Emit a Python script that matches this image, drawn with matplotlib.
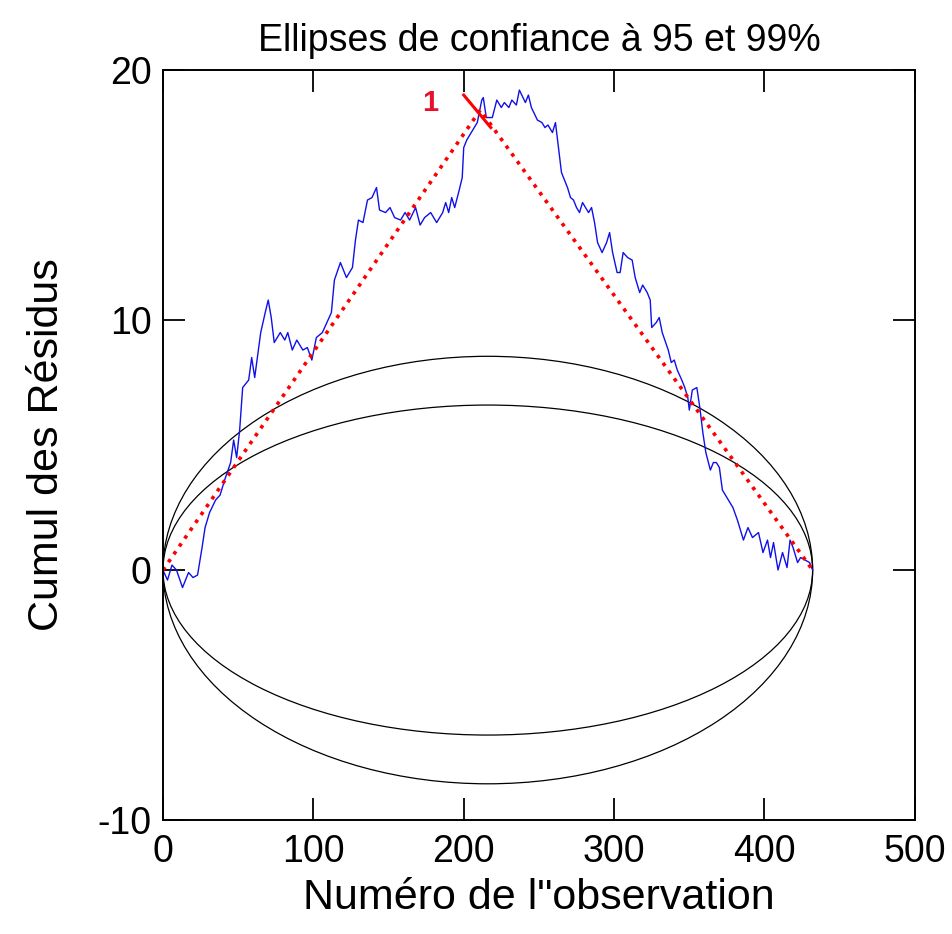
import numpy as np
import matplotlib.pyplot as plt
from matplotlib.patches import Ellipse

plt.rcParams['font.family'] = ['Liberation Sans', 'DejaVu Sans']
plt.rcParams['axes.unicode_minus'] = False

# cumulative residuals vs observation number
obs = [0, 3, 6, 9, 13, 17, 20, 23, 26, 28, 31, 35, 38, 41, 45, 47, 49, 51, 53, 57,
       59, 61, 65, 68, 70, 72, 74, 78, 81, 83, 86, 89, 93, 96, 99, 102, 106, 112, 114, 118,
       122, 126, 128, 130, 133, 136, 139, 142, 144, 148, 151, 154, 158, 161, 164, 168, 171, 174, 178, 182,
       186, 188, 190, 192, 194, 197, 199, 200, 202, 205, 209, 212, 213, 215, 219, 222, 225, 227, 230, 232,
       235, 237, 241, 243, 245, 249, 252, 254, 256, 259, 261, 263, 265, 269, 271, 273, 275, 277, 279, 283,
       285, 287, 289, 292, 295, 297, 299, 302, 304, 306, 309, 312, 314, 317, 319, 322, 324, 325, 328, 330,
       332, 336, 338, 340, 342, 345, 347, 349, 350, 352, 355, 357, 359, 361, 364, 366, 368, 370, 372, 376,
       379, 382, 386, 389, 392, 396, 399, 402, 404, 406, 409, 412, 415, 417, 419, 422, 424, 427, 430, 432]
cusum = [0.0, -0.4, 0.2, 0.0, -0.7, -0.1, -0.3, -0.2, 0.9, 1.7, 2.3, 2.8, 3.0, 3.6, 4.3, 5.2, 4.5, 5.6, 7.3, 7.6,
         8.5, 7.7, 9.5, 10.3, 10.8, 10.1, 9.1, 9.5, 9.2, 9.5, 8.8, 9.2, 8.8, 8.9, 8.4, 9.3, 9.5, 10.3, 11.6, 12.3,
         11.7, 12.1, 13.2, 14.0, 13.9, 14.8, 14.9, 15.3, 14.4, 14.3, 14.5, 14.1, 14.0, 14.3, 14.0, 14.5, 13.8, 14.1, 14.3, 13.9,
         14.3, 14.7, 14.3, 14.9, 14.5, 15.2, 15.7, 16.9, 17.2, 17.5, 17.9, 18.8, 18.9, 18.1, 18.1, 18.8, 18.5, 18.7, 18.5, 18.8,
         18.6, 19.2, 18.7, 19.0, 18.5, 18.0, 17.9, 17.7, 17.8, 17.5, 17.9, 16.9, 15.9, 15.3, 14.9, 14.8, 14.5, 14.3, 14.7, 14.3,
         14.5, 13.9, 13.1, 12.7, 13.1, 13.5, 12.7, 11.9, 11.9, 12.7, 12.5, 12.4, 11.7, 11.1, 11.4, 11.1, 10.8, 9.7, 9.9, 10.1,
         9.5, 8.8, 8.3, 8.4, 8.0, 7.6, 7.3, 6.9, 6.4, 7.2, 7.3, 6.5, 5.5, 4.7, 4.0, 4.3, 4.3, 4.1, 3.2, 2.8,
         2.5, 2.0, 1.2, 1.7, 1.3, 1.5, 0.7, 1.2, 0.5, 1.1, 0.0, 0.7, 0.1, 1.2, 0.9, 0.3, 0.5, 0.4, 0.3, 0.0]

# confidence ellipses (95% and 99%)
n_obs = 432
half_heights = [6.6, 8.55]

# broken-line fit with its break point
fit_x = [0, 211, 432]
fit_y = [0.0, 18.4, 0.0]
break_x = [200, 218]
break_y = [19.0, 17.7]
break_label = '1'

fig = plt.figure(figsize=(9.53, 9.34), dpi=100)
ax = fig.add_axes([0.171, 0.122, 0.789, 0.803])

for h in half_heights:
    ax.add_patch(Ellipse((n_obs / 2, 0), n_obs, 2 * h, fill=False,
                         edgecolor='black', linewidth=0.9))

ax.plot(obs, cusum, color='#1010e8', linewidth=1.0)
ax.plot(fit_x, fit_y, color='red', linestyle=':', linewidth=2.6)
ax.plot(break_x, break_y, color='red', linewidth=2.2)
ax.text(177.5, 18.7, break_label, color='#e8102a', fontsize=21, fontweight='bold',
        ha='center', va='center')

ax.set_xlim(0, 500)
ax.set_ylim(-10, 20)
ax.set_xticks([0, 100, 200, 300, 400, 500])
ax.set_yticks([-10, 0, 10, 20])
ax.tick_params(direction='in', length=16, width=1.3, top=True, right=True,
               labelsize=27)
ax.tick_params(axis='x', pad=10)
ax.tick_params(axis='y', pad=8)
for s in ax.spines.values():
    s.set_linewidth(1.4)

ax.set_title('Ellipses de confiance à 95 et 99%', fontsize=27, pad=14)
ax.set_xlabel('Numéro de l"observation', fontsize=31, labelpad=6)
ax.set_ylabel('Cumul des Résidus', fontsize=31, labelpad=22)

fig.savefig('out.png', dpi=100)
